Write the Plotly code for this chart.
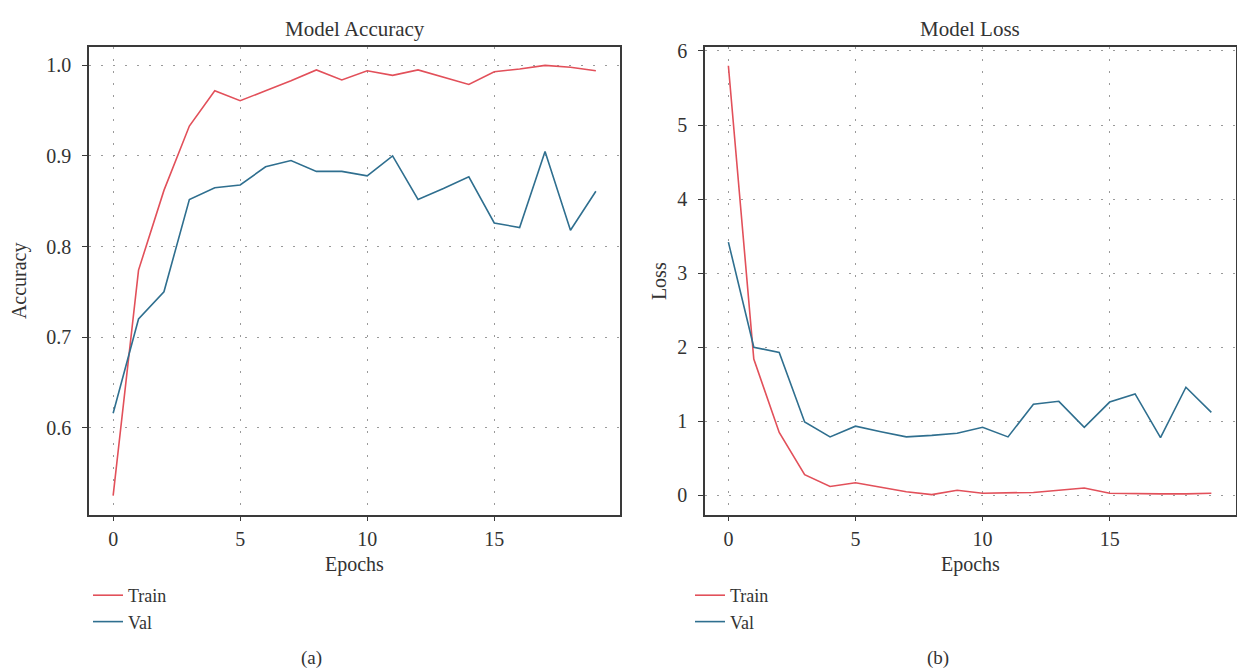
import plotly.graph_objects as go

epochs = list(range(20))
acc_train = [0.525, 0.774, 0.862, 0.933, 0.972, 0.961, 0.972, 0.983, 0.995, 0.984,
             0.994, 0.989, 0.995, 0.987, 0.979, 0.993, 0.996, 1.000, 0.998, 0.994]
acc_val = [0.616, 0.720, 0.750, 0.852, 0.865, 0.868, 0.888, 0.895, 0.883, 0.883,
           0.878, 0.900, 0.852, 0.864, 0.877, 0.826, 0.821, 0.905, 0.818, 0.861]
loss_train = [5.80, 1.84, 0.85, 0.28, 0.12, 0.17, 0.11, 0.05, 0.01, 0.07,
              0.03, 0.03, 0.04, 0.07, 0.10, 0.03, 0.02, 0.02, 0.02, 0.03]
loss_val = [3.42, 2.00, 1.93, 0.99, 0.79, 0.935, 0.86, 0.79, 0.81, 0.84,
            0.92, 0.79, 1.23, 1.27, 0.92, 1.26, 1.37, 0.78, 1.46, 1.12]

x_ticks = [0, 5, 10, 15]
acc_ticks = [0.6, 0.7, 0.8, 0.9, 1.0]
acc_tick_text = ["0.6", "0.7", "0.8", "0.9", "1.0"]
loss_ticks = [0, 1, 2, 3, 4, 5, 6]

RED = "#e2505a"
BLUE = "#2f6f8f"
FONT = "Liberation Serif"
TXT = "#333333"
W, H = 1237, 672

def px(x):
    return x / W

def py(y):
    return (H - y) / H

fig = go.Figure()
fig.add_trace(go.Scatter(x=epochs, y=acc_train, mode="lines", name="Train",
                         line=dict(color=RED, width=1.6), xaxis="x", yaxis="y", legend="legend"))
fig.add_trace(go.Scatter(x=epochs, y=acc_val, mode="lines", name="Val",
                         line=dict(color=BLUE, width=1.6), xaxis="x", yaxis="y", legend="legend"))
fig.add_trace(go.Scatter(x=epochs, y=loss_train, mode="lines", name="Train",
                         line=dict(color=RED, width=1.6), xaxis="x2", yaxis="y2", legend="legend2"))
fig.add_trace(go.Scatter(x=epochs, y=loss_val, mode="lines", name="Val",
                         line=dict(color=BLUE, width=1.6), xaxis="x2", yaxis="y2", legend="legend2"))

ydom = [py(513), py(40.7)]

common_axis = dict(
    showline=True, linecolor="#3a3a3a", linewidth=1.6, mirror=True,
    ticks="outside", ticklen=5, tickcolor="#3a3a3a", tickwidth=1.2,
    showgrid=True, gridcolor="#9a9a9a", griddash="2px,10px", gridwidth=1.2,
    zeroline=False, tickfont=dict(family=FONT, size=20, color=TXT),
)

fig.update_layout(
    width=W, height=H,
    margin=dict(l=0, r=0, t=0, b=0),
    paper_bgcolor="white", plot_bgcolor="white",
    font=dict(family=FONT, color=TXT),
    xaxis=dict(domain=[px(89), px(620)], range=[-0.95, 19.95], tickvals=x_ticks,
               anchor="y", ticklabelstandoff=1, **common_axis),
    yaxis=dict(domain=ydom, range=[0.504, 1.020], tickvals=acc_ticks, ticktext=acc_tick_text,
               anchor="x", ticklabelstandoff=7, **common_axis),
    xaxis2=dict(domain=[px(705), px(1235.5)], range=[-0.92, 19.95], tickvals=x_ticks,
                anchor="y2", ticklabelstandoff=1, **common_axis),
    yaxis2=dict(domain=ydom, range=[-0.26, 6.05], tickvals=loss_ticks,
                anchor="x2", ticklabelstandoff=7, **common_axis),
    legend=dict(x=px(88), y=py(576), xanchor="left", yanchor="top",
                font=dict(family=FONT, size=18, color=TXT), bgcolor="rgba(0,0,0,0)",
                tracegroupgap=0),
    legend2=dict(x=px(690), y=py(576), xanchor="left", yanchor="top",
                 font=dict(family=FONT, size=18, color=TXT), bgcolor="rgba(0,0,0,0)",
                 tracegroupgap=0),
)

ann = [
    dict(text="Model Accuracy", x=px(354.5), y=py(22), size=21, angle=0),
    dict(text="Model Loss", x=px(970), y=py(22), size=21, angle=0),
    dict(text="Epochs", x=px(354.5), y=py(563), size=20, angle=0),
    dict(text="Epochs", x=px(970), y=py(563), size=20, angle=0),
    dict(text="Accuracy", x=px(19), y=py(277), size=20, angle=-90),
    dict(text="Loss", x=px(659), y=py(277), size=20, angle=-90),
    dict(text="(a)", x=px(311), y=py(658), size=19, angle=0),
    dict(text="(b)", x=px(938), y=py(658), size=19, angle=0),
]
for a in ann:
    fig.add_annotation(text=a["text"], x=a["x"], y=a["y"], xref="paper", yref="paper",
                       xanchor="center", yanchor="middle", showarrow=False,
                       textangle=a["angle"], font=dict(family=FONT, size=a["size"], color=TXT))

fig.write_html("out.html", config={"displayModeBar": False},
               post_script="document.body.style.margin='0px';document.body.style.overflow='hidden';")
